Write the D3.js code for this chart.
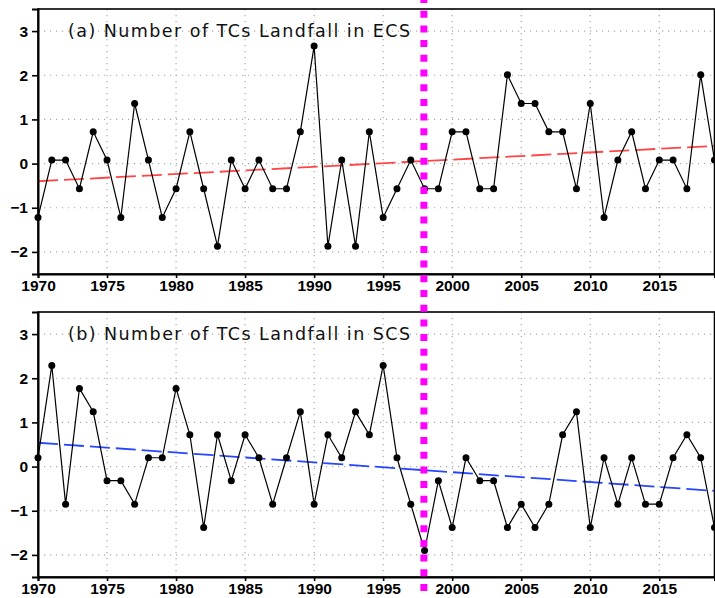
<!DOCTYPE html>
<html>
<head>
<meta charset="utf-8">
<script src="https://cdn.jsdelivr.net/npm/d3@7"></script>
<style>
  body { margin: 0; background: #fff; }
  svg { display: block; }
  .tick text { font-family: "Liberation Sans", Arial, sans-serif; }
</style>
</head>
<body>
<svg id="chart" width="715" height="598"></svg>
<script>
// years 1970..2019
var years = d3.range(1970, 2020);

// (a) standardized landfall numbers, ECS
var ecsValues = [
  -1.22, 0.08, 0.08, -0.57, 0.72, 0.08, -1.22, 1.36, 0.08, -1.22,
  -0.57, 0.72, -0.57, -1.87, 0.08, -0.57, 0.08, -0.57, -0.57, 0.72,
  2.66, -1.87, 0.08, -1.87, 0.72, -1.22, -0.57, 0.08, -0.57, -0.57,
  0.72, 0.72, -0.57, -0.57, 2.01, 1.36, 1.36, 0.72, 0.72, -0.57,
  1.36, -1.22, 0.08, 0.72, -0.57, 0.08, 0.08, -0.57, 2.01, 0.08
];

// (b) standardized landfall numbers, SCS
var scsValues = [
  0.20, 2.29, -0.85, 1.77, 1.24, -0.32, -0.32, -0.85, 0.20, 0.20,
  1.77, 0.72, -1.38, 0.72, -0.32, 0.72, 0.20, -0.85, 0.20, 1.24,
  -0.85, 0.72, 0.20, 1.24, 0.72, 2.29, 0.20, -0.85, -1.90, -0.32,
  -1.38, 0.20, -0.32, -0.32, -1.38, -0.85, -1.38, -0.85, 0.72, 1.24,
  -1.38, 0.20, -0.85, 0.20, -0.85, -0.85, 0.20, 0.72, 0.20, -1.38
];

// linear trend end values [1970, 2019]
var trendYears = [1970, 2019];
var ecsTrend = [-0.40, 0.40];
var scsTrend = [0.54, -0.55];

var xTicks = [1970, 1975, 1980, 1985, 1990, 1995, 2000, 2005, 2010, 2015];
var yTicks = [-2, -1, 0, 1, 2, 3];
var shiftYear = 1997.95;

var svg = d3.select("#chart");

var x = d3.scaleLinear()
    .domain([1970, 2019])
    .range([38, 714.5]);

var panels = [
  { title: "(a) Number of TCs Landfall in ECS", values: ecsValues, trend: ecsTrend, trendColor: "#ff4545", top: 9, bottom: 274 },
  { title: "(b) Number of TCs Landfall in SCS", values: scsValues, trend: scsTrend, trendColor: "#2645ff", top: 312, bottom: 577 }
];

panels.forEach(function (p) {
    var y = d3.scaleLinear()
        .domain([-2.5, 3.5])
        .range([p.bottom, p.top]);

    var g = svg.append("g");

    // dotted grid
    g.append("g")
        .selectAll("line")
        .data(yTicks)
        .enter()
        .append("line")
        .attr("x1", x.range()[0])
        .attr("x2", x.range()[1])
        .attr("y1", d => y(d))
        .attr("y2", d => y(d))
        .attr("stroke", "#aaa")
        .attr("stroke-width", 1.2)
        .attr("stroke-dasharray", "1.2,4.8");

    g.append("g")
        .selectAll("line")
        .data(xTicks.slice(1))
        .enter()
        .append("line")
        .attr("x1", d => x(d))
        .attr("x2", d => x(d))
        .attr("y1", p.top)
        .attr("y2", p.bottom)
        .attr("stroke", "#aaa")
        .attr("stroke-width", 1.2)
        .attr("stroke-dasharray", "1.2,4.8");

    // trend line
    g.append("line")
        .attr("x1", x(trendYears[0]))
        .attr("x2", x(trendYears[1]))
        .attr("y1", y(p.trend[0]))
        .attr("y2", y(p.trend[1]))
        .attr("stroke", p.trendColor)
        .attr("stroke-width", 1.8)
        .attr("stroke-dasharray", "20,6");

    // series line + markers
    var line = d3.line()
        .x((d, i) => x(years[i]))
        .y(d => y(d));

    g.append("path")
        .datum(p.values)
        .attr("d", line)
        .attr("fill", "none")
        .attr("stroke", "#000")
        .attr("stroke-width", 1.2);

    g.append("g")
        .selectAll("circle")
        .data(p.values)
        .enter()
        .append("circle")
        .attr("cx", (d, i) => x(years[i]))
        .attr("cy", d => y(d))
        .attr("r", 3.5)
        .attr("fill", "#000");

    // frame
    g.append("rect")
        .attr("x", x.range()[0])
        .attr("y", p.top)
        .attr("width", x.range()[1] - x.range()[0])
        .attr("height", p.bottom - p.top)
        .attr("fill", "none")
        .attr("stroke", "#000")
        .attr("stroke-width", 1.6);

    // axes
    var xAxis = g.append("g")
        .attr("transform", "translate(0," + p.bottom + ")")
        .call(d3.axisBottom(x).tickValues(xTicks).tickFormat(d3.format("d")).tickSize(4).tickPadding(2));

    var yAxis = g.append("g")
        .attr("transform", "translate(" + x.range()[0] + ",0)")
        .call(d3.axisLeft(y).tickValues(yTicks).tickFormat(d => d < 0 ? "\u2212" + Math.abs(d) : d).tickSize(6).tickPadding(4));

    [xAxis, yAxis].forEach(function (a) {
        a.select(".domain").attr("stroke-width", 2);
        a.selectAll(".tick line").attr("stroke-width", 1.6);
        a.selectAll(".tick text")
            .attr("fill", "#000")
            .style("font-size", "15.5px")
            .style("font-weight", "bold");
    });

    // title
    g.append("text")
        .attr("x", 68)
        .attr("y", p.top + 28)
        .attr("textLength", 342)
        .attr("lengthAdjust", "spacing")
        .style("font-family", "'DejaVu Sans', sans-serif")
        .style("font-size", "17.5px")
        .attr("fill", "#111")
        .text(p.title);
});

// regime shift marker
svg.append("line")
    .attr("x1", x(shiftYear))
    .attr("x2", x(shiftYear))
    .attr("y1", 0)
    .attr("y2", 598)
    .attr("stroke", "#ff00ff")
    .attr("stroke-width", 7)
    .attr("stroke-dasharray", "7,7.7")
    .attr("stroke-dashoffset", 4);
</script>
</body>
</html>
